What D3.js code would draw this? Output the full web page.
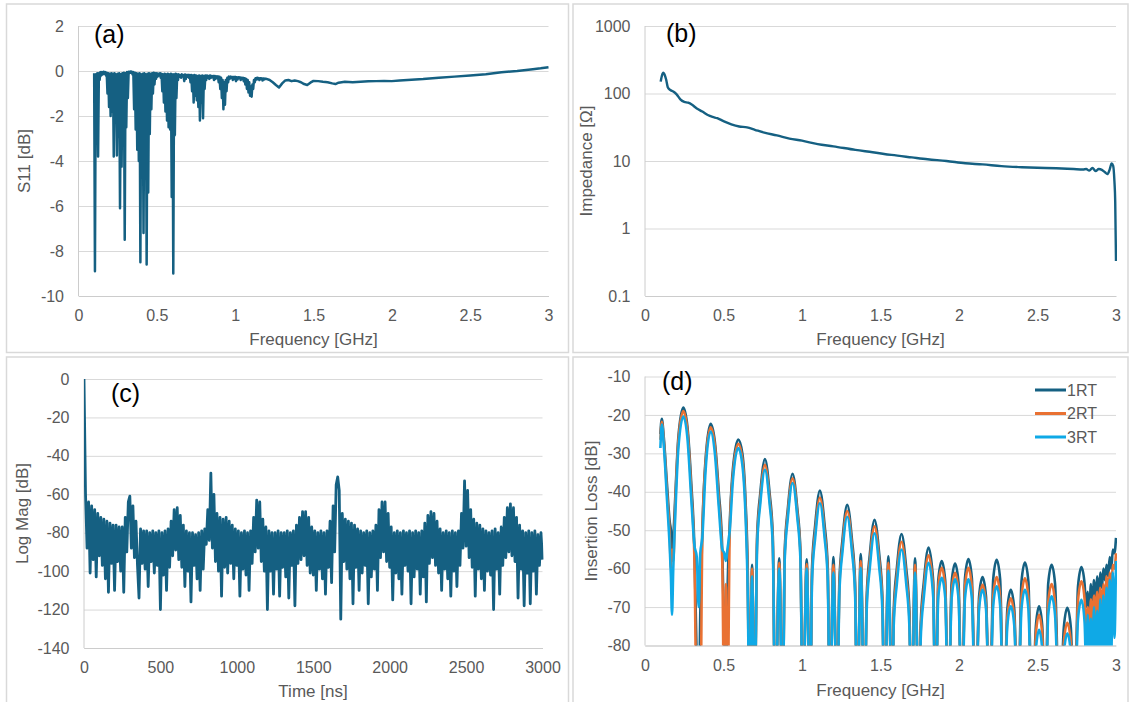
<!DOCTYPE html>
<html>
<head>
<meta charset="utf-8">
<script src="https://cdn.jsdelivr.net/npm/d3@7"></script>
<style>
  body { margin: 0; background: #fff; }
  svg text { font-family: "Liberation Sans", Arial, Helvetica, sans-serif; }
  .tick text { fill: #595959; font-size: 16px; }
  .axis-title { fill: #595959; font-size: 17px; }
  .panel-label { fill: #000; font-size: 25px; }
  .legend text { fill: #595959; font-size: 16px; }
</style>
</head>
<body>
<svg id="chart" width="1131" height="702"></svg>
<script>
// ---- (a) S11 vs frequency: dense part on a 5 MHz grid, tail with explicit freqs
var s11Start = 0.1, s11Step = 0.005;
var s11Dense = [
  -0.10, -8.90, -0.15, -2.60, -0.10, -3.80, -0.10, -0.40, -0.05, -0.20,
  -0.05, -0.15, -0.03, -0.12, -0.05, -0.20, -0.08, -1.00, -0.10, -1.60,
  -0.12, -2.00, -0.10, -1.80, -0.12, -3.80, -0.10, -2.20, -0.15, -3.75,
  -0.12, -2.90, -0.10, -6.10, -0.15, -4.25, -0.10, -2.80, -0.08, -7.50,
  -0.10, -2.50, -0.05, -1.20, -0.03, -0.10, -0.02, -0.08, -0.03, -0.15,
  -0.05, -1.70, -0.08, -2.60, -0.10, -3.50, -0.12, -4.00, -0.10, -8.50,
  -0.15, -4.40, -0.12, -7.20, -0.10, -3.00, -0.15, -8.60, -0.12, -5.40,
  -0.10, -2.80, -0.12, -1.70, -0.10, -1.00, -0.08, -0.60, -0.10, -0.35,
  -0.10, -0.25, -0.12, -0.20, -0.10, -0.30, -0.12, -0.90, -0.15, -1.40,
  -0.12, -1.80, -0.15, -2.20, -0.12, -2.50, -0.15, -2.60, -0.12, -5.60,
  -0.15, -9.00, -0.15, -2.85, -0.12, -1.20, -0.15, -0.40, -0.15, -0.25,
  -0.18, -0.30, -0.15, -0.22, -0.18, -0.45, -0.16, -0.35, -0.18, -0.25,
  -0.17, -0.30, -0.18, -0.50, -0.18, -0.90, -0.20, -1.40, -0.18, -1.10,
  -0.20, -1.30, -0.22, -1.60, -0.20, -2.20, -0.22, -1.40, -0.20, -2.10,
  -0.22, -0.80, -0.20, -0.40, -0.20, -0.30, -0.22, -0.35, -0.20, -0.30,
  -0.22, -0.28, -0.22, -0.40, -0.22, -0.35, -0.24, -0.30, -0.24, -0.50,
  -0.26, -0.80, -0.30, -1.20, -0.40, -1.70, -0.50, -1.50, -0.40, -0.90,
  -0.30, -0.50, -0.25, -0.35, -0.25, -0.30, -0.26, -0.40, -0.27, -0.35,
  -0.26, -0.45, -0.28, -0.38, -0.28, -0.30, -0.28, -0.40, -0.30, -0.35,
  -0.30, -0.45, -0.32, -0.60, -0.35, -0.80, -0.40, -0.95, -0.50, -1.10,
  -0.70, -1.14, -0.60, -0.80, -0.40, -0.50, -0.32, -0.38, -0.30, -0.36,
  -0.31, -0.40, -0.32, -0.35, -0.33, -0.42, -0.33, -0.38, -0.34, -0.36,
  -0.35
];
var s11TailFreq = [1.22, 1.24, 1.26, 1.28, 1.30, 1.32, 1.34, 1.36, 1.38, 1.40,
  1.42, 1.44, 1.46, 1.48, 1.50, 1.53, 1.56, 1.59, 1.62, 1.64,
  1.66, 1.70, 1.75, 1.80, 1.85, 1.90, 1.95, 2.00, 2.05, 2.10,
  2.20, 2.30, 2.40, 2.50, 2.60, 2.70, 2.80, 2.90, 2.95, 3.00];
var s11TailDb = [-0.40, -0.50, -0.62, -0.73, -0.55, -0.42, -0.40, -0.45, -0.42, -0.45,
  -0.50, -0.58, -0.62, -0.52, -0.44, -0.45, -0.48, -0.50, -0.55, -0.58,
  -0.52, -0.48, -0.50, -0.48, -0.46, -0.45, -0.44, -0.45, -0.42, -0.40,
  -0.36, -0.30, -0.25, -0.20, -0.14, -0.06, 0.00, 0.08, 0.12, 0.17];

// ---- (b) impedance vs frequency
var zFreq = [0.100, 0.108, 0.117, 0.125, 0.135, 0.145, 0.160, 0.180, 0.200, 0.225,
  0.250, 0.275, 0.300, 0.330, 0.365, 0.400, 0.430, 0.460, 0.500, 0.550,
  0.600, 0.650, 0.700, 0.760, 0.840, 0.920, 1.000, 1.100, 1.200, 1.340,
  1.450, 1.570, 1.700, 1.800, 1.920, 2.040, 2.150, 2.270, 2.400, 2.500,
  2.620, 2.730, 2.790, 2.810, 2.830, 2.850, 2.870, 2.890, 2.910, 2.930,
  2.945, 2.960, 2.972, 2.982, 2.990, 2.995, 3.000];
var zOhm = [150, 185, 203, 190, 160, 124, 113, 107, 98, 82,
  75, 73, 68, 60, 54, 48, 45, 43, 39, 35,
  32.5, 31.5, 29, 26.3, 24, 21.5, 20, 17.8, 16.5, 14.6,
  13.5, 12.3, 11.3, 10.6, 10, 9.25, 8.9, 8.4, 8.1, 7.95,
  7.8, 7.6, 7.5, 7.6, 7.2, 7.9, 7.1, 7.6, 7.4, 6.8,
  6.4, 7.5, 9.2, 8.5, 5, 2.5, 0.33];

// ---- (c) time domain log magnitude, one value every 10 ns from 0 to 3000 ns
var tdStepNs = 10;
var tdLogMag = [
  0, -60, -88, -64, -101, -66, -94, -68, -103, -70,
  -92, -72, -97, -73, -104, -74, -111, -75, -96, -76,
  -110, -76, -95, -77, -100, -77, -111, -72, -90, -64,
  -61, -88, -66, -93, -74, -97, -114, -78, -96, -79,
  -99, -79, -108, -80, -95, -79, -101, -80, -97, -79,
  -120, -80, -102, -79, -110, -78, -98, -74, -92, -68,
  -89, -67, -94, -71, -98, -76, -108, -79, -100, -80,
  -116, -80, -97, -81, -104, -80, -110, -79, -99, -78,
  -86, -68, -84, -49, -88, -60, -95, -70, -100, -72,
  -113, -73, -98, -72, -101, -74, -96, -76, -104, -78,
  -97, -79, -113, -80, -99, -79, -102, -80, -110, -79,
  -96, -72, -90, -63, -88, -64, -95, -73, -100, -77,
  -120, -79, -100, -80, -112, -80, -99, -79, -113, -80,
  -98, -80, -103, -79, -114, -80, -97, -79, -118, -76,
  -96, -72, -94, -69, -92, -69, -97, -72, -101, -77,
  -102, -79, -110, -80, -99, -79, -104, -80, -112, -79,
  -98, -74, -106, -66, -90, -55, -51, -58, -125, -70,
  -95, -73, -99, -74, -104, -75, -117, -76, -98, -78,
  -110, -79, -101, -80, -97, -79, -117, -80, -103, -79,
  -99, -76, -110, -68, -93, -64, -90, -64, -95, -70,
  -98, -77, -115, -80, -101, -79, -104, -80, -112, -79,
  -97, -80, -100, -79, -117, -80, -103, -79, -99, -80,
  -112, -79, -103, -75, -116, -71, -96, -69, -93, -70,
  -97, -74, -101, -78, -110, -80, -99, -79, -104, -80,
  -113, -79, -100, -80, -108, -79, -97, -70, -88, -53,
  -87, -58, -93, -68, -98, -73, -113, -75, -99, -76,
  -104, -78, -110, -79, -100, -80, -102, -79, -120, -78,
  -99, -80, -112, -77, -97, -72, -93, -67, -90, -65,
  -92, -67, -95, -72, -114, -76, -99, -79, -118, -80,
  -101, -79, -117, -80, -100, -79, -112, -81, -97, -80,
  -94
];

// ---- (d) insertion loss, three round trips on one frequency grid
var ilFreq = [
  0.098, 0.107, 0.120, 0.140, 0.158, 0.165, 0.172, 0.180, 0.192, 0.212,
  0.244, 0.270, 0.295, 0.315, 0.330, 0.342, 0.352, 0.365, 0.385, 0.418,
  0.445, 0.470, 0.492, 0.505, 0.515, 0.525, 0.540, 0.560, 0.594, 0.620,
  0.640, 0.655, 0.665, 0.682, 0.698,
  0.714, 0.734, 0.764, 0.794, 0.814, 0.830, 0.855, 0.877,
  0.890, 0.910, 0.940, 0.970, 0.990, 1.005, 1.030, 1.052,
  1.064, 1.084, 1.114, 1.144, 1.164, 1.178, 1.200, 1.224,
  1.238, 1.258, 1.288, 1.318, 1.338, 1.352, 1.374, 1.398,
  1.412, 1.432, 1.462, 1.492, 1.512, 1.526, 1.550, 1.574,
  1.584, 1.604, 1.634, 1.664, 1.684, 1.698, 1.720, 1.744,
  1.756, 1.776, 1.806, 1.836, 1.850,
  1.868, 1.890, 1.912, 1.932, 1.953, 1.975, 1.997, 2.018,
  2.038, 2.060, 2.082, 2.105, 2.128, 2.150, 2.172, 2.195,
  2.218, 2.240, 2.262, 2.285, 2.308, 2.330, 2.352, 2.375,
  2.398, 2.420, 2.442, 2.465, 2.490, 2.510, 2.530, 2.550,
  2.568, 2.590, 2.612, 2.640, 2.668, 2.690, 2.712, 2.735,
  2.758, 2.780, 2.800,
  2.810, 2.820, 2.830, 2.840, 2.850, 2.860, 2.870, 2.880, 2.890, 2.900,
  2.910, 2.920, 2.930, 2.940, 2.950, 2.960, 2.970, 2.980, 2.990, 3.000
];
var il1RT = [
  -25, -21, -26, -38, -48, -50, -56, -52, -42, -26,
  -18.1, -23, -38, -55, -85, -100, -72, -50, -32, -22.3,
  -27, -40, -55, -78, -100, -68, -48, -34, -26.4, -30,
  -42, -62, -100, -59, -100,
  -51.5, -40.5, -31.5, -40.5, -51.5, -100, -57.3, -100,
  -55.3, -44.3, -35.3, -44.3, -55.3, -100, -57.6, -100,
  -59.7, -48.7, -39.7, -48.7, -59.7, -100, -57, -100,
  -63.4, -52.4, -43.4, -52.4, -63.4, -100, -56.2, -100,
  -67.3, -56.3, -47.3, -56.3, -67.3, -100, -56.8, -100,
  -71, -60, -51, -60, -71, -100, -57.3, -100,
  -74.5, -63.5, -54.5, -63.5, -100,
  -63, -58, -63, -100, -63.7, -58.7, -63.7, -100,
  -62.5, -57.5, -62.5, -100, -67.2, -62.2, -67.2, -100,
  -62.7, -57.7, -62.7, -100, -70.5, -65.5, -70.5, -100,
  -63.4, -58.4, -63.4, -100, -74.8, -69.8, -74.8, -100,
  -64, -59, -64, -100, -75.2, -70.2, -75.2, -100,
  -64.6, -59.6, -64,
  -70, -66, -72, -64, -70, -63, -68, -62, -67, -61,
  -65, -60, -63, -59, -62, -57, -60, -55, -56, -52
];
var il2RT = [
  -26.5, -21.8, -27, -40, -52, -60, -55, -58, -44, -27,
  -19, -24, -40, -58, -100, -82, -100, -52, -33, -23.2,
  -28, -42, -58, -100, -64, -100, -50, -35.5, -27.5, -31.5,
  -44, -65, -100, -60, -100,
  -53, -42, -33, -42, -53, -100, -58.5, -100,
  -56.5, -45.5, -36.5, -45.5, -56.5, -100, -58.8, -100,
  -61.5, -50.5, -41.5, -50.5, -61.5, -100, -59, -100,
  -65, -54, -45, -54, -65, -100, -58, -100,
  -69, -58, -49, -58, -69, -100, -58.5, -100,
  -73, -62, -53, -62, -73, -100, -59, -100,
  -76.5, -65.5, -56.5, -65.5, -100,
  -64.8, -59.8, -64.8, -100, -66.1, -61.1, -66.1, -100,
  -64.8, -59.8, -64.8, -100, -69.2, -64.2, -69.2, -100,
  -67.2, -62.2, -67.2, -100, -72.7, -67.7, -72.7, -100,
  -67.5, -62.5, -67.5, -100, -77, -72, -77, -100,
  -69, -64, -69, -100, -79.1, -74.1, -79.1, -100,
  -68.3, -63.3, -68,
  -75, -70, -78, -68, -76, -67, -74, -66, -72, -65,
  -70, -64, -69, -62, -67, -61, -65, -59, -60, -56
];
var il3RT = [
  -28.6, -22.5, -28, -42, -55, -62, -72, -60, -47, -29,
  -20.4, -26, -42, -54, -57, -70, -56, -52, -35, -24.3,
  -30, -44, -55, -56, -58, -55, -50, -37, -28.6, -33,
  -46, -68, -100, -62, -100,
  -54.3, -43.3, -34.3, -43.3, -54.3, -100, -60, -100,
  -57.7, -46.7, -37.7, -46.7, -57.7, -100, -60, -100,
  -63, -52, -43, -52, -63, -100, -61, -100,
  -66.5, -55.5, -46.5, -55.5, -66.5, -100, -59.8, -100,
  -70.8, -59.8, -50.8, -59.8, -70.8, -100, -60.5, -100,
  -75, -64, -55, -64, -75, -100, -61, -100,
  -78.5, -67.5, -58.5, -67.5, -100,
  -67.4, -62.4, -67.4, -100, -67.8, -62.8, -67.8, -100,
  -67.8, -62.8, -67.8, -100, -70.5, -65.5, -70.5, -100,
  -69.6, -64.6, -69.6, -100, -74.8, -69.8, -74.8, -100,
  -70.5, -65.5, -70.5, -100, -80.9, -75.9, -80.9, -100,
  -72.2, -67.2, -72.2, -100, -81.8, -76.8, -81.8, -100,
  -73.1, -68.1, -74,
  -86, -72, -88, -73, -86, -70, -88, -71, -85, -68,
  -86, -67, -84, -65, -86, -63, -82, -61, -78, -58
];
var ilNames = ['1RT', '2RT', '3RT'];

// ---- tick labels
var freqTicks = [0, 0.5, 1, 1.5, 2, 2.5, 3];
var s11Ticks = [2, 0, -2, -4, -6, -8, -10];
var zTicks = [0.1, 1, 10, 100, 1000];
var timeTicks = [0, 500, 1000, 1500, 2000, 2500, 3000];
var magTicks = [0, -20, -40, -60, -80, -100, -120, -140];
var ilTicks = [-10, -20, -30, -40, -50, -60, -70, -80];

var blue = '#156082', orange = '#E97132', sky = '#0FA9E6';
var gridColor = '#d9d9d9', axisColor = '#cccccc';
var svg = d3.select('#chart');

// panel frames
[[6.5, 4, 562, 348.5], [573, 4, 555, 348.5], [6.5, 357, 562, 350], [573, 357, 555, 350]].forEach(function(r) {
  svg.append('rect').attr('x', r[0]).attr('y', r[1]).attr('width', r[2]).attr('height', r[3])
    .attr('fill', 'none').attr('stroke', '#d9d9d9').attr('stroke-width', 1.5);
});

var makePanel = function(box, x, y, xTicks, yTicks, clipId) {
  var w = box.right - box.left, h = box.bottom - box.top;
  x.range([0, w]);
  y.range([h, 0]);
  var g = svg.append('g').attr('transform', 'translate(' + box.left + ',' + box.top + ')');
  var gy = g.append('g').attr('class', 'y axis')
    .call(d3.axisLeft(y).tickValues(yTicks).tickSize(-w).tickPadding(14.5).tickFormat(function(d) { return String(d); }));
  gy.select('.domain').remove();
  gy.selectAll('line').attr('stroke', gridColor);
  g.append('line').attr('x1', 0).attr('x2', 0).attr('y1', 0).attr('y2', h).attr('stroke', axisColor);
  var gx = g.append('g').attr('class', 'x axis').attr('transform', 'translate(0,' + h + ')')
    .call(d3.axisBottom(x).tickValues(xTicks).tickSize(0).tickPadding(14).tickFormat(function(d) { return String(d); }));
  gx.select('.domain').attr('stroke', axisColor);
  g.append('clipPath').attr('id', clipId).append('rect')
    .attr('x', 0).attr('y', -3).attr('width', w + 1).attr('height', h + 3);
  return g.append('g').attr('clip-path', 'url(#' + clipId + ')');
};

var addTitles = function(xt, xtPos, yt, ytPos) {
  svg.append('text').attr('class', 'axis-title').attr('text-anchor', 'middle')
    .attr('x', xtPos[0]).attr('y', xtPos[1]).text(xt);
  svg.append('text').attr('class', 'axis-title').attr('text-anchor', 'middle')
    .attr('transform', 'translate(' + ytPos[0] + ',' + ytPos[1] + ') rotate(-90)').text(yt);
};

var addLabel = function(t, pos) {
  svg.append('text').attr('class', 'panel-label').attr('x', pos[0]).attr('y', pos[1]).text(t);
};

var plotLine = function(g, pts, x, y, color, width, curve) {
  g.append('path').datum(pts)
    .attr('fill', 'none').attr('stroke', color).attr('stroke-width', width)
    .attr('stroke-linejoin', 'round')
    .attr('d', d3.line().x(function(d) { return x(d[0]); }).y(function(d) { return y(d[1]); }).curve(curve));
};

// (a)
var xa = d3.scaleLinear().domain([0, 3]), ya = d3.scaleLinear().domain([-10, 2]);
var ga = makePanel({left: 78.5, right: 548.5, top: 26, bottom: 296}, xa, ya, freqTicks, s11Ticks, 'clip-a');
var s11Points = s11Dense.map(function(v, i) { return [s11Start + i * s11Step, v]; })
  .concat(s11TailFreq.map(function(f, i) { return [f, s11TailDb[i]]; }));
plotLine(ga, s11Points, xa, ya, blue, 2.5, d3.curveLinear);
addTitles('Frequency [GHz]', [313.5, 345], 'S11 [dB]', [30, 161]);
addLabel('(a)', [94, 43]);

// (b)
var xb = d3.scaleLinear().domain([0, 3]), yb = d3.scaleLog().domain([0.1, 1000]);
var gb = makePanel({left: 645, right: 1116, top: 26, bottom: 296}, xb, yb, freqTicks, zTicks, 'clip-b');
plotLine(gb, zFreq.map(function(f, i) { return [f, zOhm[i]]; }), xb, yb, blue, 2.4, d3.curveMonotoneX);
addTitles('Frequency [GHz]', [880.5, 345], 'Impedance [Ω]', [592, 161]);
addLabel('(b)', [666, 41.5]);

// (c)
var xc = d3.scaleLinear().domain([0, 3000]), yc = d3.scaleLinear().domain([-140, 0]);
var gc = makePanel({left: 84, right: 542.5, top: 379, bottom: 648}, xc, yc, timeTicks, magTicks, 'clip-c');
plotLine(gc, tdLogMag.map(function(v, i) { return [i * tdStepNs, v]; }), xc, yc, blue, 2.8, d3.curveLinear);
addTitles('Time [ns]', [313, 697], 'Log Mag [dB]', [28, 513.5]);
addLabel('(c)', [111, 402]);

// (d)
var xd = d3.scaleLinear().domain([0, 3]), yd = d3.scaleLinear().domain([-80, -10]);
var gd = makePanel({left: 645, right: 1116, top: 376.5, bottom: 645.5}, xd, yd, freqTicks, ilTicks, 'clip-d');
var ilColors = [blue, orange, sky];
[il1RT, il2RT, il3RT].forEach(function(vals, k) {
  plotLine(gd, ilFreq.map(function(f, i) { return [f, vals[i]]; }), xd, yd, ilColors[k], 2.6, d3.curveMonotoneX);
});
addTitles('Frequency [GHz]', [880.5, 695.5], 'Insertion Loss [dB]', [597, 511]);
addLabel('(d)', [662, 390]);

var legend = svg.append('g').attr('class', 'legend').attr('transform', 'translate(1035,390)');
ilNames.forEach(function(name, k) {
  var row = legend.append('g').attr('transform', 'translate(0,' + (k * 23.5) + ')');
  row.append('line').attr('x1', 0).attr('x2', 31).attr('y1', 0).attr('y2', 0)
    .attr('stroke', ilColors[k]).attr('stroke-width', 3);
  row.append('text').attr('x', 32).attr('y', 0).attr('dy', '0.35em').text(name);
});
</script>
</body>
</html>
